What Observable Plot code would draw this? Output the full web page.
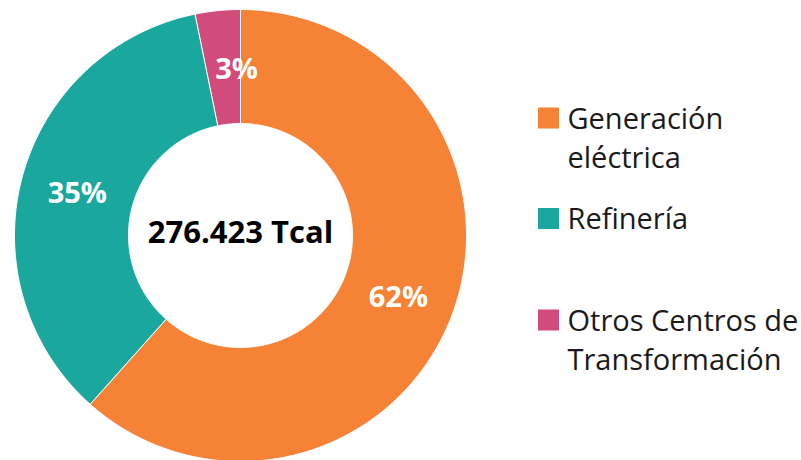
<!DOCTYPE html>
<html><head><meta charset="utf-8">
<script src="https://cdn.jsdelivr.net/npm/d3@7"></script>
<script src="https://cdn.jsdelivr.net/npm/@observablehq/plot@0.6"></script>
<style>body{margin:0;background:#fff}</style>
</head><body><div id="chart"></div>
<script>
// ---- data ----
const categories = ["Generación eléctrica", "Refinería", "Otros Centros de Transformación"];
const shares = [61.6, 35.2, 3.2];           // percent of total
const pctLabels = ["62%", "35%", "3%"];
const totalLabel = "276.423 Tcal";
const legendLines = [["Generación", "eléctrica"], ["Refinería"], ["Otros Centros de", "Transformación"]];
const colors = ["#F58235", "#1AA89E", "#D24C7B"];

// ---- layout ----
const W = 801, H = 460, cx = 240, cy = 235, R = 226, r0 = 112;
const labelNudgeX = [0, 0, 13], labelNudgeY = [2, 2, 2];
const legendX = 538, legendSq = 21, legendCenters = [118, 218.5, 320], lineGap = 39, textX = 567;
const FONT = "Open Sans";

const arcs = d3.pie().sort(null).value(d => d)(shares);
const pts = [];
arcs.forEach((a, i) => {
  const n = Math.max(8, Math.ceil((a.endAngle - a.startAngle) * 80));
  for (let k = 0; k <= n; k++) {
    const t = a.startAngle + (a.endAngle - a.startAngle) * k / n;
    pts.push({cat: categories[i], x: cx + R * Math.sin(t), y: cy - R * Math.cos(t)});
  }
  for (let k = n; k >= 0; k--) {
    const t = a.startAngle + (a.endAngle - a.startAngle) * k / n;
    pts.push({cat: categories[i], x: cx + r0 * Math.sin(t), y: cy - r0 * Math.cos(t)});
  }
});
const rm = (R + r0) / 2;
const mid = a => (a.startAngle + a.endAngle) / 2;

const legendText = [];
legendLines.forEach((lines, i) => lines.forEach((t, j) =>
  legendText.push({t, baseline: legendCenters[i] + 10 + j * lineGap})));

const chart = Plot.plot({
  width: W, height: H, margin: 0,
  x: {type: "identity", axis: null},
  y: {type: "identity", axis: null},
  color: {domain: categories, range: colors},
  style: {fontFamily: FONT, background: "#fff"},
  marks: [
    Plot.line(pts, {x: "x", y: "y", z: "cat", fill: "cat", stroke: "white", strokeWidth: 1, curve: "linear-closed"}),
    Plot.text(arcs, {
      x: (a, i) => cx + rm * Math.sin(mid(a)) + labelNudgeX[i],
      y: (a, i) => cy - rm * Math.cos(mid(a)) + labelNudgeY[i],
      text: (a, i) => pctLabels[i], fill: "white", fontWeight: "bold", fontSize: 29, fontFamily: FONT
    }),
    Plot.text([totalLabel], {x: () => cx, y: () => cy - 2, text: d => d, fill: "#000",
      fontWeight: "bold", fontSize: 31, fontFamily: FONT}),
    Plot.rect(categories, {
      x1: () => legendX, x2: () => legendX + legendSq,
      y1: (d, i) => legendCenters[i] - legendSq / 2, y2: (d, i) => legendCenters[i] + legendSq / 2,
      fill: d => d
    }),
    Plot.text(legendText, {x: () => textX, y: d => d.baseline - 0.32 * 29, text: "t",
      textAnchor: "start", fill: "#1a1a1a", fontSize: 29, fontFamily: FONT})
  ]
});
document.getElementById("chart").appendChild(chart);
</script>
</body></html>
